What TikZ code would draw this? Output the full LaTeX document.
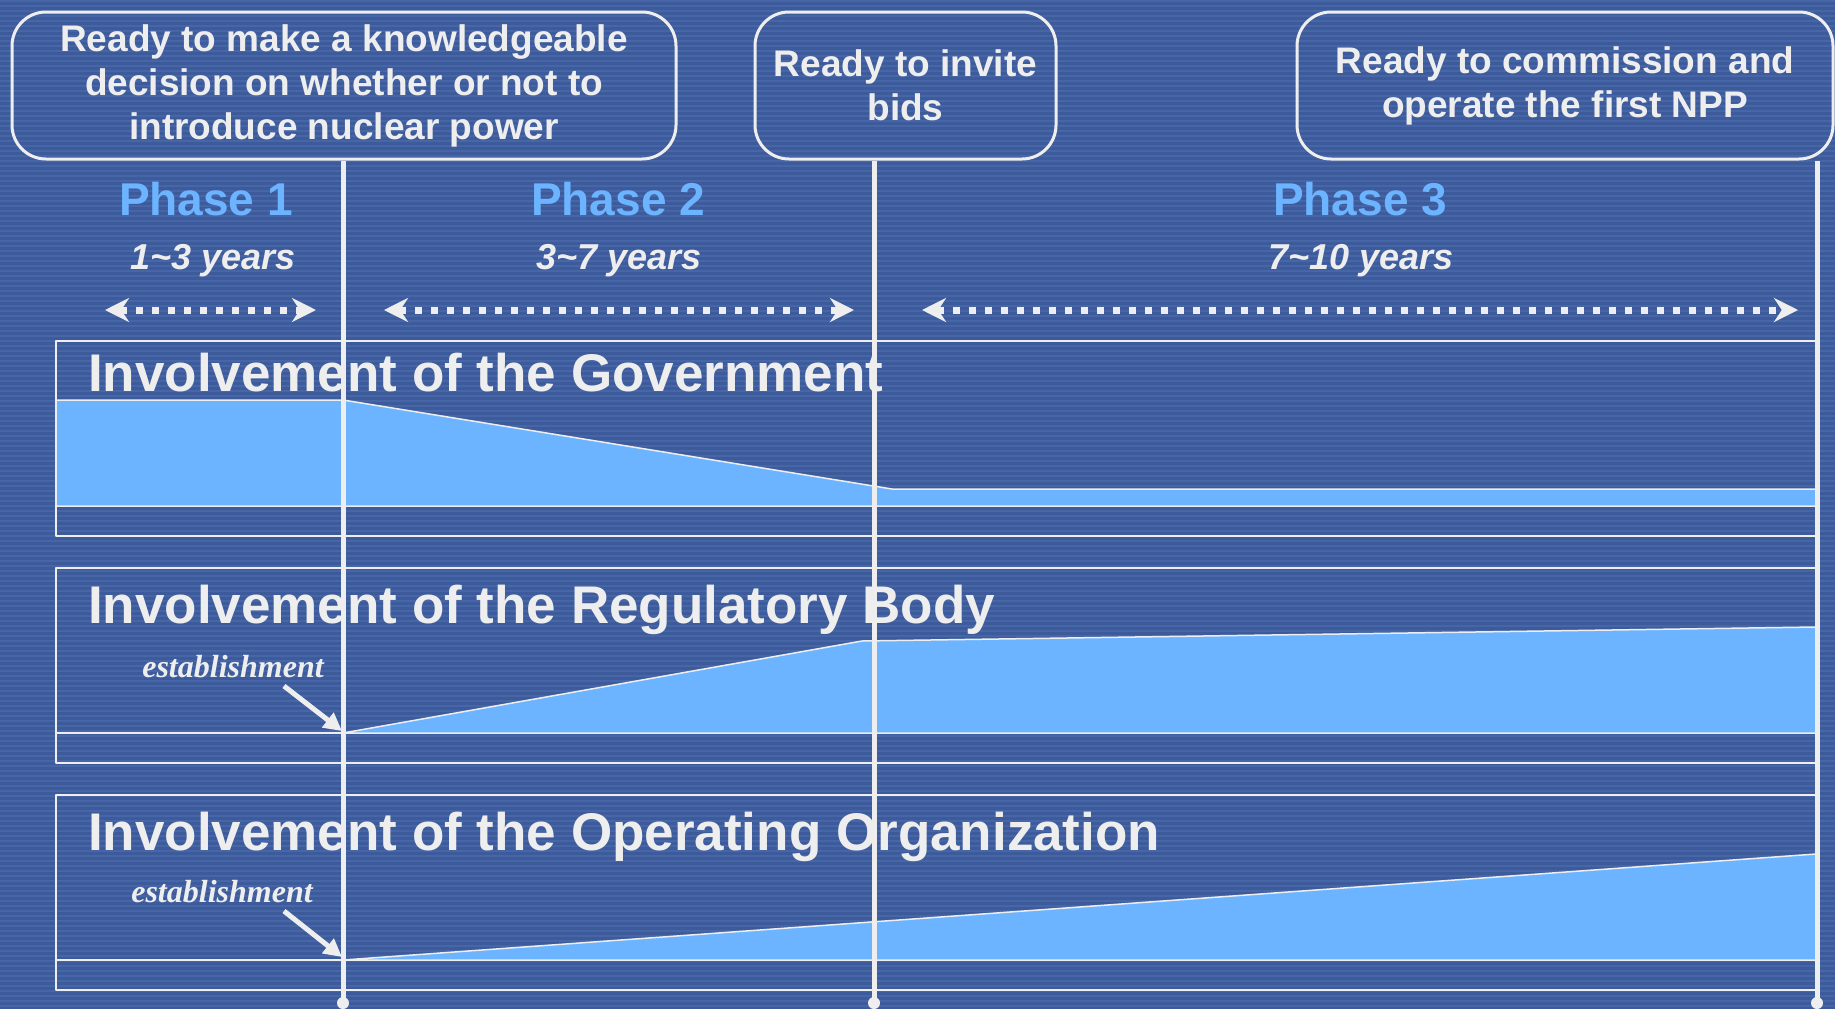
\documentclass[tikz,border=0pt]{standalone}
\usepackage{fontspec}
\setmainfont{Liberation Sans}
\newfontfamily\timesfont{Liberation Serif}
\usetikzlibrary{arrows.meta}
\definecolor{bgblue}{RGB}{61,91,155}
\definecolor{stripeblue}{RGB}{70,102,167}
\definecolor{lightblue}{RGB}{108,180,255}
\definecolor{offwhite}{RGB}{238,238,238}
\begin{document}
\begin{tikzpicture}[x=1pt,y=-1pt,line join=round,
	milestone/.style={draw=offwhite,line width=3pt,rounded corners=34pt,text=offwhite,
		font=\bfseries\fontsize{37}{44}\selectfont,align=center,inner sep=0pt,minimum height=147pt},
	phase/.style={text=lightblue,font=\bfseries\fontsize{46}{52}\selectfont,anchor=base},
	years/.style={text=offwhite,font=\bfseries\itshape\fontsize{36}{42}\selectfont,anchor=base},
	span/.style={offwhite,line width=7pt,dash pattern=on 7pt off 9pt,
		{Stealth[length=24pt,width=24pt]}-{Stealth[length=24pt,width=24pt]}},
	panel/.style={draw=offwhite,line width=2pt},
	share/.style={fill=lightblue,draw=offwhite,line width=1.5pt},
	title/.style={text=offwhite,font=\bfseries\fontsize{53}{60}\selectfont,anchor=base west,inner sep=0pt},
	estab/.style={text=offwhite,font=\timesfont\bfseries\itshape\fontsize{32}{38}\selectfont},
	pointer/.style={offwhite,line width=5pt,-{Triangle[length=18pt,width=18pt]}},
	gate/.style={offwhite,line width=5pt}]
	\useasboundingbox (0,0) rectangle (1835,1009);
	% background
	\fill[bgblue] (0,0) rectangle (1835,1009);
	\foreach \y in {0,5,...,1005}
	\fill[stripeblue] (0,\y) rectangle (1835,\y+2);
	% milestones
	\path (344,85.5)node[milestone,minimum width=664pt](b1){Ready to make a knowledgeable\\decision on whether or not to\\introduce nuclear power}
	(905.5,85.5)node[milestone,minimum width=301pt](b2){Ready to invite\\bids}
	(1565,85.5)node[milestone,minimum width=536pt](b3){Ready to commission and\\operate the first NPP};
	% phases
	\path (206,215)node[phase](p1){Phase 1}
	(618,215)node[phase](p2){Phase 2}
	(1360,215)node[phase](p3){Phase 3};
	\path (213,269)node[years](y1){1\char`~3 years}
	(619,269)node[years](y2){3\char`~7 years}
	(1361,269)node[years](y3){7\char`~10 years};
	\coordinate (a1l) at (105,310); \coordinate (a1r) at (316,310);
	\coordinate (a2l) at (384,310); \coordinate (a2r) at (854,310);
	\coordinate (a3l) at (922,310); \coordinate (a3r) at (1798,310);
	\draw[span] (a1l)--(a1r);
	\draw[span] (a2l)--(a2r);
	\draw[span] (a3l)--(a3r);
	% panels
	\foreach \t in {341,568,795}{
		\draw[panel] (56,\t) rectangle (1816,\t+195);
		\draw[panel] (56,\t+165) -- (1816,\t+165);
	}
	\filldraw[share] (56,400) -- (343,400) -- (892,489) -- (1816,489) -- (1816,506) -- (56,506) -- cycle;
	\filldraw[share] (343,733) -- (862,641) -- (1816,627) -- (1816,733) -- cycle;
	\filldraw[share] (343,960) -- (1816,854) -- (1816,960) -- cycle;
	\path (88,391)node[title](tgov){Involvement of the Government}
	(88,623)node[title](treg){Involvement of the Regulatory Body}
	(88,850)node[title](topr){Involvement of the Operating Organization};
	% milestone lines
	\coordinate (g1) at (343,1003);
	\coordinate (g2) at (874,1003);
	\coordinate (g3) at (1817,1003);
	\draw[gate] (g1|-b1.south)--(g1);
	\draw[gate] (g2|-b2.south)--(g2);
	\draw[gate] (g3|-b3.south)--(g3);
	\foreach \g in {g1,g2,g3}
	\fill[offwhite] (\g) circle (6pt);
	% establishment
	\path (233,667)node[estab](e2){establishment}
	(222,892)node[estab](e3){establishment};
	\coordinate (s2) at (284,686); \coordinate (r2) at (342,731);
	\coordinate (s3) at (284,911); \coordinate (r3) at (342,957);
	\draw[pointer] (s2)--(r2);
	\draw[pointer] (s3)--(r3);
\end{tikzpicture}
\end{document}
